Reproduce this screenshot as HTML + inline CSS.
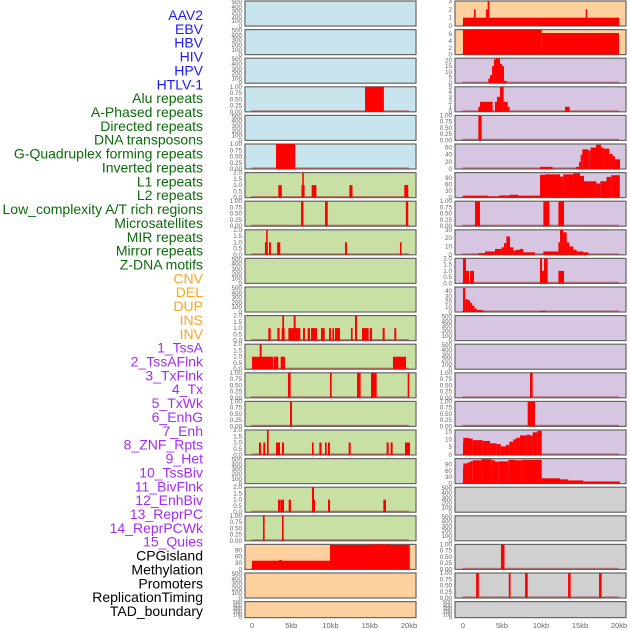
<!DOCTYPE html>
<html><head><meta charset="utf-8"><style>
html,body{margin:0;padding:0;background:#fff;width:630px;height:630px;overflow:hidden}
svg{display:block}
</style></head><body>
<svg id="chart" width="630" height="630" xmlns="http://www.w3.org/2000/svg" font-family="Liberation Sans, sans-serif"></svg>
<script>
// ---- data ----
const labelNames = ["AAV2","EBV","HBV","HIV","HPV","HTLV-1","Alu repeats","A-Phased repeats","Directed repeats","DNA transposons","G-Quadruplex forming repeats","Inverted repeats","L1 repeats","L2 repeats","Low_complexity A/T rich regions","Microsatellites","MIR repeats","Mirror repeats","Z-DNA motifs","CNV","DEL","DUP","INS","INV","1_TssA","2_TssAFlnk","3_TxFlnk","4_Tx","5_TxWk","6_EnhG","7_Enh","8_ZNF_Rpts","9_Het","10_TssBiv","11_BivFlnk","12_EnhBiv","13_ReprPC","14_ReprPCWk","15_Quies","CPGisland","Methylation","Promoters","ReplicationTiming","TAD_boundary"];
const labelGroups = [0,0,0,0,0,0,1,1,1,1,1,1,1,1,1,1,1,1,1,2,2,2,2,2,3,3,3,3,3,3,3,3,3,3,3,3,3,3,3,4,4,4,4,4];
const groupColors = ["#1a1aff","#0b6b0b","#ffa51a","#a52cf2","#000000"];

const leftBg = ["#c8e4ec","#c8e4ec","#c8e4ec","#c8e4ec","#c8e4ec","#c8e4ec","#c8e0a4","#c8e0a4","#c8e0a4","#c8e0a4","#c8e0a4","#c8e0a4","#c8e0a4","#c8e0a4","#c8e0a4","#c8e0a4","#c8e0a4","#c8e0a4","#c8e0a4","#fdd09e","#fdd09e","#fdd09e"];
const rightBg = ["#fdd09e","#fdd09e","#d6c6e2","#d6c6e2","#d6c6e2","#d6c6e2","#d6c6e2","#d6c6e2","#d6c6e2","#d6c6e2","#d6c6e2","#d6c6e2","#d6c6e2","#d6c6e2","#d6c6e2","#d6c6e2","#d6c6e2","#d0d0d0","#d0d0d0","#d0d0d0","#d0d0d0","#d0d0d0"];

const leftYmax = [520,520,520,1,520,1,2,1,2,520,520,2,2,1,1,2,520,2,1,118,520,520];
const rightYmax = [3,7.3,22,5,1,70,115,1,30,2,48,520,520,1,1,16,118,520,520,1,1,520];

const leftTicks = [[0,100,200,300,400,500],[0,100,200,300,400,500],[0,100,200,300,400,500],[0,0.25,0.5,0.75,1],[0,100,200,300,400,500],[0,0.25,0.5,0.75,1],[0,0.5,1,1.5,2],[0,0.25,0.5,0.75,1],[0,0.5,1,1.5,2],[0,100,200,300,400,500],[0,100,200,300,400,500],[0,0.5,1,1.5,2],[0,0.5,1,1.5,2],[0,0.25,0.5,0.75,1],[0,0.25,0.5,0.75,1],[0,0.5,1,1.5,2],[0,100,200,300,400,500],[0,0.5,1,1.5,2],[0,0.25,0.5,0.75,1],[0,30,60,90],[0,100,200,300,400,500],[0,100,200,300,400,500]];
const rightTicks = [[0,1,2,3],[0,2,4,6],[0,5,10,15,20],[0,1,2,3,4,5],[0,0.25,0.5,0.75,1],[0,20,40,60],[0,30,60,90],[0,0.25,0.5,0.75,1],[0,10,20,30],[0,0.5,1,1.5,2],[0,10,20,30,40],[0,100,200,300,400,500],[0,100,200,300,400,500],[0,0.25,0.5,0.75,1],[0,0.25,0.5,0.75,1],[0,5,10,15],[0,30,60,90],[0,100,200,300,400,500],[0,100,200,300,400,500],[0,0.25,0.5,0.75,1],[0,0.25,0.5,0.75,1],[0,100,200,300,400,500]];

// segments: [startKb, endKb, value]
const leftSegs = [
 [],[],[],
 [[14.4,16.8,1]],
 [],
 [[3.06,5.5,1]],
 [[3.35,3.8,1],[6.4,6.6,2],[6.3,6.7,1],[7.6,8.2,1],[12.4,12.8,1],[19.4,19.9,1]],
 [[6.25,6.55,1],[9.3,9.65,1],[19.6,19.9,1]],
 [[1.65,2.0,1],[1.8,2.0,2],[2.17,2.42,1],[3.2,3.6,1],[11.85,12.1,1],[18.85,19.05,1]],
 [],[],
 [[2.08,2.38,1],[3.23,3.52,1],[3.78,4.16,1],[3.86,4.08,2],[4.63,6.16,1],[5.31,5.56,2],[6.5,6.75,1],[7.09,7.39,1],[7.52,8.28,1],[8.79,9.26,1],[9.81,10.06,1],[10.23,10.45,1],[10.57,11.21,1],[12.61,12.82,1],[13.12,13.38,2],[14.01,14.86,1],[15.03,15.29,1],[16.64,16.9,1],[18.13,18.38,1]],
 [[0,2.72,1],[0.98,1.23,2],[2.8,3.35,1],[3.65,4.2,1],[17.96,19.62,1]],
 [[4.58,4.92,1],[9.93,10.15,1],[13.38,13.84,1],[15.16,15.88,1],[19.83,20.04,1]],
 [[4.84,5.09,1]],
 [[0.89,1.15,1],[1.44,1.7,1],[1.91,2.12,2],[3.06,3.57,1],[3.82,4.08,1],[7.64,7.85,1],[8.58,8.87,1],[9.3,9.51,1],[9.68,9.93,1],[12.31,12.57,1],[17.15,17.41,1],[17.66,17.92,1],[19.49,20.13,1]],
 [],
 [[3.31,3.57,1],[3.6,4.08,1],[4.67,4.96,1],[7.64,8.03,1],[7.64,7.9,2],[9.68,9.94,1],[16.73,17.07,1]],
 [[1.4,1.61,1],[3.82,4.03,1]],
 [[0,9.94,41],[3.44,3.82,44],[9.94,20.1,116],[15.0,17.5,119]],
 [],[]
];
const rightSegs = [
 [[0,20.04,1],[1.41,1.62,2],[2.95,3.16,2],[3.16,3.38,3],[15.73,15.9,2]],
 [[0,10.09,7.3],[10.09,20.0,6.3]],
 [[3.25,3.46,4],[3.46,3.72,7],[3.72,3.97,15],[3.97,4.23,21],[4.23,4.74,22],[4.74,5.0,17],[5.0,5.26,15],[5.26,5.6,2]],
 [[1.97,2.18,1],[2.18,3.8,2],[4.1,4.36,2],[4.36,4.74,3],[4.74,5.21,5],[5.21,5.73,2],[5.73,5.98,1],[13.08,13.68,1]],
 [[1.97,2.39,1]],
 [[9.87,11.5,6],[14.49,14.87,6],[14.87,15.09,20],[15.09,15.3,40],[15.3,16.07,55],[16.07,16.37,52],[16.37,17.05,60],[17.05,17.69,68],[17.69,17.99,60],[17.99,18.76,57],[18.76,19.19,42],[19.19,19.49,36],[19.49,20.13,27]],
 [[0,3.25,9],[3.25,4.66,5],[4.66,6.02,10],[6.02,7.09,13],[7.09,9.87,9],[9.87,10.51,105],[10.51,12.44,107],[12.44,12.86,97],[12.86,14.15,107],[14.15,15.0,112],[15.0,15.51,100],[15.51,17.1,75],[17.1,17.6,65],[17.6,18.4,75],[18.4,19.0,95],[19.0,20.1,103]],
 [[1.54,2.18,1],[10.3,11.07,1],[12.23,12.95,1]],
 [[1.97,2.82,2],[2.82,4.1,4],[4.1,4.96,7],[4.96,5.26,9],[5.26,5.56,14],[5.56,6.02,22],[6.02,6.45,9],[6.45,6.79,5],[6.79,7.3,6],[7.3,7.73,7],[7.73,9.23,3],[10.3,12.23,4],[12.23,12.44,15],[12.44,12.86,30],[12.86,13.29,27],[13.29,13.63,15],[13.63,14.15,10],[14.15,14.57,6],[14.57,15.43,4],[15.43,16.07,3]],
 [[0,0.38,2],[0.38,0.77,1],[0.9,1.41,1],[9.87,10.13,2],[10.13,10.38,1],[10.38,10.85,2],[12.23,12.95,1]],
 [[0,0.3,46],[0.3,0.73,24],[0.73,0.94,22],[0.94,1.2,17],[1.2,1.45,12],[1.45,1.75,7],[1.75,2.5,4],[2.5,2.9,2],[9.87,10.64,2]],
 [],[],
 [[8.59,8.93,1]],
 [[8.29,9.23,1]],
 [[0,0.04,8],[0.04,0.77,11],[0.77,1.24,10.5],[1.24,2.52,9.5],[2.52,3.46,9],[3.46,4.32,7.5],[4.32,4.83,7],[4.83,5.51,5.5],[5.51,5.94,6.5],[5.94,6.45,8.5],[6.45,6.79,10],[6.79,7.3,11],[7.3,8.16,12.5],[8.16,8.59,13],[8.59,8.93,12.5],[8.93,9.53,14.5],[9.53,10.09,15.5]],
 [[0,0.04,72],[0.04,0.56,95],[0.56,0.9,100],[0.9,1.24,105],[1.24,2.39,110],[2.39,3.68,115],[3.68,4.1,110],[4.1,4.53,103],[4.53,5.81,105],[5.81,6.79,112],[6.79,7.52,110],[7.52,10.09,112],[10.09,12.44,25],[12.44,13.5,20],[13.5,15.43,15],[15.43,20.13,10]],
 [],[],
 [[4.87,5.32,1]],
 [[1.68,2.03,1],[5.87,6.1,1],[7.96,8.3,1],[13.47,13.8,1],[17.44,17.78,1]],
 []
];
const xTickValues = [0,5,10,15,20];
const xTickLabels = ["0","5kb","10kb","15kb","20kb"];

// ---- drawing ----
const NS = "http://www.w3.org/2000/svg";
const svg = document.getElementById("chart");
function mk(tag, attrs, parent){
  const e = document.createElementNS(NS, tag);
  for (const k in attrs) e.setAttribute(k, attrs[k]);
  (parent||svg).appendChild(e);
  return e;
}
// labels
const labelStep = (611 - 15) / (labelNames.length - 1);
labelNames.forEach((t,i)=>{
  const el = mk("text",{x:203,y:15+i*labelStep+5,"text-anchor":"end","font-size":"14",fill:groupColors[labelGroups[i]]});
  el.textContent = t;
  
  
});

function panelTop(k){ return 1 + k*28.6; }
function panelH(k){ return k===21 ? 16 : 25; }
function fmt(v, ticks){
  const mx = ticks[ticks.length-1];
  if (mx===1) return v.toFixed(2);
  if (mx===2) return v.toFixed(1);
  return String(v);
}
function drawColumn(colName, left, right, x0px, x20px, bgs, ymaxs, ticks, segs){
  const xs = v => x0px + (x20px - x0px) * v / 20;
  for (let k=0;k<22;k++){
    const top = panelTop(k), h = panelH(k);
    const g = mk("g",{});
    
    
    mk("rect",{x:left,y:top,width:right-left,height:h,fill:bgs[k],stroke:"#666","stroke-width":"1.2"},g);
    const ys = v => top + h - h * v / ymaxs[k];
    ticks[k].forEach(tv=>{
      const t = mk("text",{x:left-3,y:ys(tv)+2,"text-anchor":"end","font-size": k===21 ? "5.5":"6.3",fill:"#666"},g);
      t.textContent = fmt(tv, ticks[k]);
      
      
    });
    if (segs[k].length){
      mk("line",{x1:xs(-0.1),x2:xs(20),y1:top+h-0.8,y2:top+h-0.8,stroke:"#a03030","stroke-width":"1.6","stroke-opacity":"0.55"},g);
    }
    segs[k].forEach(s=>{
      const y = ys(Math.min(s[2], ymaxs[k]));
      const b = mk("rect",{x:xs(s[0]),y:y,width:Math.max(1.5,xs(s[1])-xs(s[0])),height:top+h-y,fill:"#ff0000"},g);
      
      
    });
  }
  xTickValues.forEach((v,i)=>{
    const t = mk("text",{x:xs(v),y:628,"text-anchor":"middle","font-size":"7.5",fill:"#666"});
    t.textContent = xTickLabels[i];
    
    
  });
}
drawColumn("left",245,416,252,409,leftBg,leftYmax,leftTicks,leftSegs);
drawColumn("right",455,626,463,619,rightBg,rightYmax,rightTicks,rightSegs);
</script>
</body></html>
